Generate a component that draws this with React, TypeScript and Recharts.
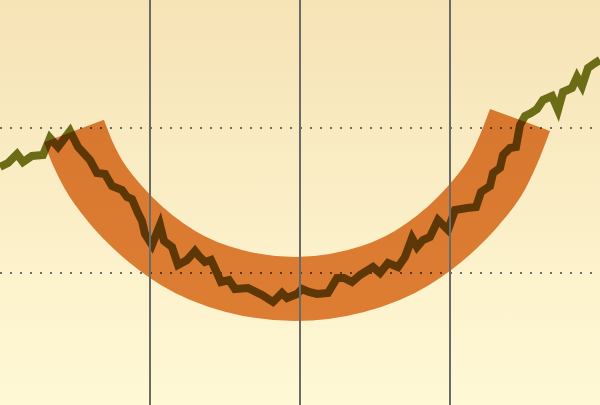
import { ComposedChart, Line, XAxis, YAxis, CartesianGrid, ReferenceLine } from 'recharts';

// price-like series, x position and height above the bottom edge
const seriesX = [
  0, 8, 17, 23, 32, 43, 50, 58, 70, 78, 90, 97, 105, 112, 122, 127, 132, 138, 142, 145,
  152, 160, 164, 172, 178, 187, 195, 199, 205, 211, 217, 221, 229, 235, 248, 262, 273, 282, 287, 297,
  302, 309, 317, 328, 337, 344, 352, 360, 373, 380, 388, 398, 405, 412, 417, 423, 430, 438, 448, 455,
  467, 476, 481, 490, 493, 500, 503, 510, 516, 520, 525, 531, 537, 543, 552, 558, 563, 572, 577, 582,
  588, 595, 600,
];
const seriesY = [
  238, 242, 251, 243, 249, 250, 267, 258, 274, 258, 245, 232, 231, 219, 215, 208, 206, 192, 184, 171,
  160, 180, 164, 158, 140, 145, 154, 149, 143, 145, 132, 123, 125, 116, 117, 110, 103, 112, 107, 111,
  116, 113, 111, 112, 127, 127, 123, 130, 138, 132, 142, 138, 148, 167, 158, 165, 168, 185, 175, 195,
  197, 198, 213, 219, 232, 237, 250, 257, 258, 280, 289, 292, 296, 305, 309, 295, 313, 317, 328, 319,
  337, 342, 345,
];

// centre of the wide "smile" band
const bandX = [74, 83, 92, 116, 130, 178, 234, 295, 356, 412, 460, 474, 498, 510, 520];
const bandY = [274, 251, 233, 200, 185, 147, 124, 116, 124, 147, 185, 200, 233, 259, 285];

const gridY = [132, 277];
const dividers = [150, 300, 450];

const series = seriesX.map((x, i) => ({ x, v: seriesY[i] }));
const band = bandX.map((x, i) => ({ x, v: bandY[i] }));

export default function App() {
  return (
    <div style={{ position: 'absolute', left: 0, top: 0, width: 600, height: 405 }}>
      <style>{'.smile-band { mix-blend-mode: multiply; }'}</style>
      <ComposedChart width={600} height={405} margin={{ top: 0, right: 0, bottom: 0, left: 0 }}>
        <defs>
          <linearGradient id="bgFade" x1="0" y1="0" x2="0" y2="1">
            <stop offset="0%" stopColor="#f6e3b6" />
            <stop offset="100%" stopColor="#fff9d6" />
          </linearGradient>
        </defs>
        <CartesianGrid
          vertical={false}
          horizontalValues={gridY}
          stroke="#6b6b6b"
          strokeWidth={2}
          strokeDasharray="2 8"
          fill="url(#bgFade)"
          fillOpacity={1}
        />
        <XAxis dataKey="x" type="number" domain={[0, 600]} hide allowDataOverflow />
        <YAxis type="number" domain={[0, 405]} hide allowDataOverflow />
        <Line
          data={series}
          dataKey="v"
          type="linear"
          stroke="#6c6b16"
          strokeWidth={8}
          dot={false}
          activeDot={false}
          isAnimationActive={false}
        />
        <Line
          className="smile-band"
          data={band}
          dataKey="v"
          type="monotone"
          stroke="#de833e"
          strokeWidth={64}
          strokeLinecap="butt"
          dot={false}
          activeDot={false}
          isAnimationActive={false}
        />
        {dividers.map((x) => (
          <ReferenceLine key={x} x={x} stroke="#6a6a66" strokeWidth={2} />
        ))}
      </ComposedChart>
    </div>
  );
}
